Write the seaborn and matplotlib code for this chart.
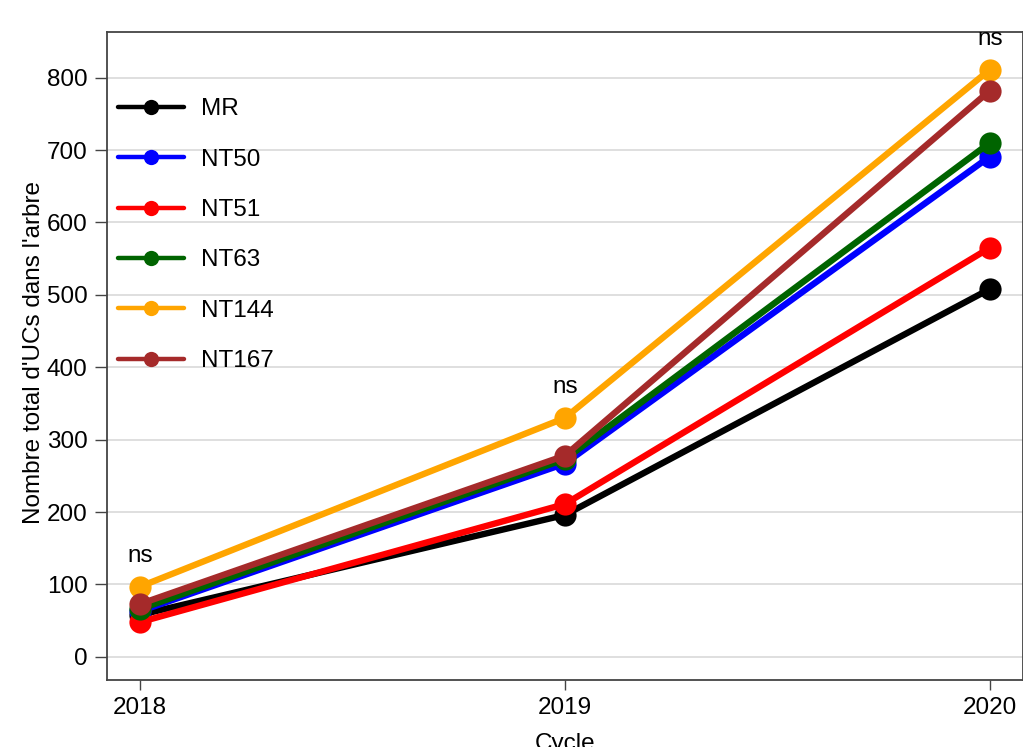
import pandas as pd
import matplotlib.pyplot as plt
import seaborn as sns

# Values
cycles = [2018, 2019, 2020]
mr = [58, 196, 508]
nt50 = [63, 267, 691]
nt51 = [48, 211, 565]
nt63 = [66, 273, 710]
nt144 = [97, 330, 811]
nt167 = [73, 278, 782]

series = {'MR': mr, 'NT50': nt50, 'NT51': nt51, 'NT63': nt63,
          'NT144': nt144, 'NT167': nt167}
colors = {'MR': 'black', 'NT50': '#0000ff', 'NT51': '#ff0000',
          'NT63': '#006400', 'NT144': '#ffa500', 'NT167': '#a52a2a'}
signif = ['ns', 'ns', 'ns']

rows = []
for name, vals in series.items():
    for c, v in zip(cycles, vals):
        rows.append({'Cycle': c, 'UC': v, 'Genotype': name})
df = pd.DataFrame(rows)

sns.set_style('white')
plt.rcParams['font.family'] = ['Liberation Sans', 'DejaVu Sans']
plt.rcParams['text.color'] = 'black'
plt.rcParams['xtick.color'] = 'black'
plt.rcParams['ytick.color'] = 'black'
fs = 17.5

fig = plt.figure(figsize=(10.23, 7.47), dpi=100)
ax = fig.add_axes([107 / 1023, 67 / 747, 916 / 1023, 648 / 747])

ax.grid(axis='y', color='#d9d9d9', linewidth=1.2)
ax.set_axisbelow(True)

sns.lineplot(data=df, x='Cycle', y='UC', hue='Genotype',
             hue_order=list(series.keys()), palette=colors,
             marker='o', markersize=16, markeredgewidth=0,
             linewidth=4.6, ax=ax)

# significance labels above the highest point of each cycle
for i, c in enumerate(cycles):
    top = max(v[i] for v in series.values())
    ax.text(c, top + 42, signif[i], ha='center', va='center', fontsize=fs)

ax.set_xlim(2017.922, 2020.078)
ax.set_ylim(-32, 863)
ax.set_xticks(cycles)
ax.set_yticks(range(0, 801, 100))
ax.tick_params(axis='both', labelsize=fs, direction='out', width=1,
               color='#444444', left=True, bottom=True)
ax.tick_params(axis='y', length=9, pad=5)
ax.tick_params(axis='x', length=7, pad=5)
for s in ax.spines.values():
    s.set_color('#444444')
    s.set_linewidth(1.3)

ax.set_xlabel('')
ax.set_ylabel('')
fig.text(34 / 1023, 1 - 353 / 747, "Nombre total d'UCs dans l'arbre",
         rotation=90, ha='center', va='center', fontsize=fs)
fig.text(565 / 1023, 14 / 747, 'Cycle', ha='center', va='top', fontsize=fs)

handles, labels = ax.get_legend_handles_labels()
for h in handles:
    h.set_markersize(11)
    h.set_linewidth(3.2)
ax.legend(handles, labels, loc='upper left', bbox_to_anchor=(0.012, 0.898),
          frameon=False, fontsize=fs, handlelength=2.7, handletextpad=0.7,
          labelspacing=1.17, borderpad=0, borderaxespad=0)

fig.savefig('out.png', dpi=100)
